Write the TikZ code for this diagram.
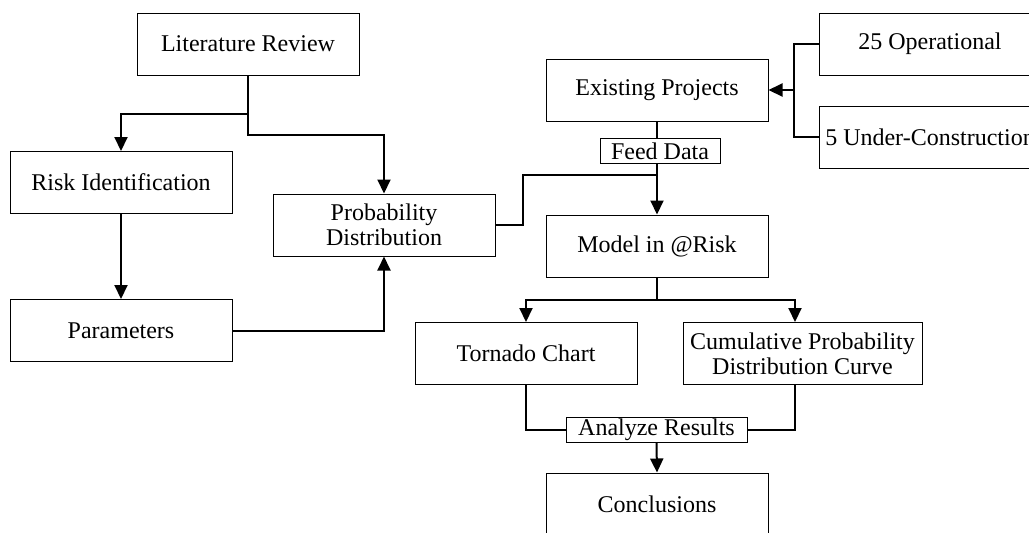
\documentclass[tikz,border=0pt]{standalone}
\usepackage{fontspec}
\setmainfont{Liberation Serif}
\usetikzlibrary{arrows.meta}
\begin{document}
\begin{tikzpicture}[x=0.5pt,y=-0.5pt,
		box/.style={draw,line width=0.5pt,minimum width=111pt,minimum height=31pt,inner sep=0pt,align=center,font=\fontsize{12}{12.5}\selectfont},
		tag/.style={draw,line width=0.5pt,fill=white,minimum height=12.5pt,inner sep=0pt,font=\fontsize{12}{12.5}\selectfont},
		link/.style={line width=1pt},
		arr/.style={line width=1pt,-{Triangle[length=7pt,width=6.5pt]}}]
			\useasboundingbox (0,0) rectangle (1029,532);
			\node[box] (lit) at (248,44) {Literature Review};
			\node[box] (risk) at (121,182.5) {Risk Identification};
			\node[box] (param) at (121,330.5) {Parameters};
			\node[box] (prob) at (384,225) {Probability\\Distribution};
			\node[box] (exist) at (657,90) {Existing Projects};
			\node[box] (oper) at (930,44) {25 Operational};
			\node[box] (under) at (930,137) {5 Under-Construction};
			\node[box] (model) at (657,246) {Model in @Risk};
			\node[box] (tornado) at (526,353.5) {Tornado Chart};
			\node[box,minimum width=119.5pt] (cumul) at (802.5,353.5) {Cumulative Probability\\Distribution Curve};
			\node[box] (concl) at (657,504) {Conclusions};
			\node[tag,minimum width=60pt] (feed) at (660,151) {Feed Data};
			\node[tag,minimum width=90.5pt] (analyze) at (656.5,430) {Analyze Results};
			\coordinate (brk) at (794,90);
			\coordinate (join) at (657,175);
			\draw[arr] (lit.south) -- ++(0,38) -| (risk.north);
			\draw[arr] (lit.south) -- ++(0,59) -| (prob.north);
			\draw[arr] (risk.south) -- (param.north);
			\draw[arr] (param.east) -| (prob.south);
			\draw[link] (prob.east) -- ++(27,0) |- (join);
			\draw[link] (oper.west) -| (brk) |- (under.west);
			\draw[arr] (brk) -- (exist.east);
			\draw[link] (exist.south) -- (exist.south |- feed.north);
			\draw[arr] (feed.south -| model.north) -- (model.north);
			\draw[arr] (model.south) -- ++(0,22) -| (tornado.north);
			\draw[arr] (model.south) -- ++(0,22) -| ([xshift=-3.75pt]cumul.north);
			\draw[link] (tornado.south) |- (analyze.west);
			\draw[link] ([xshift=-3.75pt]cumul.south) |- (analyze.east);
			\draw[arr] (analyze.south) -- (concl.north);
		\end{tikzpicture}
\end{document}
